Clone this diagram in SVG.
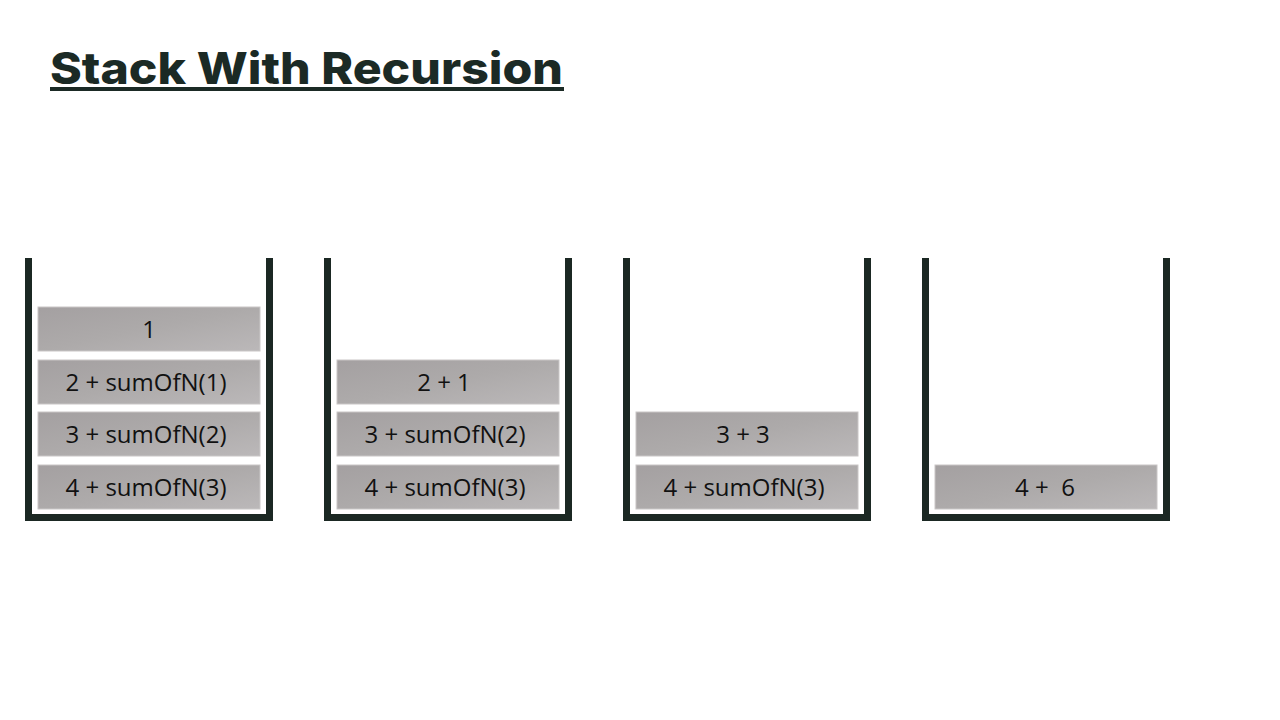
<svg xmlns="http://www.w3.org/2000/svg" width="1280" height="720" viewBox="0 0 1280 720">
<defs>
<linearGradient id="g" x1="0" y1="0" x2="1" y2="1">
<stop offset="0" stop-color="#a4a0a1"/>
<stop offset="0.5" stop-color="#adaaaa"/>
<stop offset="1" stop-color="#bbb8b9"/>
</linearGradient>
<style>
.wall{fill:none;stroke:#1b2823;stroke-width:7;stroke-linecap:butt;stroke-linejoin:miter}
.box{fill:url(#g);stroke:#c9c6c6;stroke-width:1}
.t{font-family:"Open Sans","Noto Sans",sans-serif;font-size:24px;fill:#111;text-anchor:middle}
.title{font-family:Inter,"Open Sans",sans-serif;font-weight:800;font-size:44px;fill:#1b2a25}
</style>
</defs>
<rect width="1280" height="720" fill="#fff"/>
<g id="title">
<text class="title" x="50" y="84" textLength="513" lengthAdjust="spacingAndGlyphs">Stack With Recursion</text>
<rect x="50" y="87" width="514" height="4" fill="#1b2a25"/>
</g>
<g id="stack1">
<path class="wall" d="M28.5,258 V517.5 H269.5 V258"/>
<rect class="box" x="38" y="307" width="222" height="44"/><text class="t" x="149" y="338">1</text>
<rect class="box" x="38" y="360" width="222" height="44"/><text class="t" x="146" y="391">2 + sumOfN(1)</text>
<rect class="box" x="38" y="412" width="222" height="44"/><text class="t" x="146" y="443">3 + sumOfN(2)</text>
<rect class="box" x="38" y="465" width="222" height="44"/><text class="t" x="146" y="496">4 + sumOfN(3)</text>
</g>
<g id="stack2">
<path class="wall" d="M327.5,258 V517.5 H568.5 V258"/>
<rect class="box" x="337" y="360" width="222" height="44"/><text class="t" x="444" y="391">2 + 1</text>
<rect class="box" x="337" y="412" width="222" height="44"/><text class="t" x="445" y="443">3 + sumOfN(2)</text>
<rect class="box" x="337" y="465" width="222" height="44"/><text class="t" x="445" y="496">4 + sumOfN(3)</text>
</g>
<g id="stack3">
<path class="wall" d="M626.5,258 V517.5 H867.5 V258"/>
<rect class="box" x="636" y="412" width="222" height="44"/><text class="t" x="743" y="443">3 + 3</text>
<rect class="box" x="636" y="465" width="222" height="44"/><text class="t" x="744" y="496">4 + sumOfN(3)</text>
</g>
<g id="stack4">
<path class="wall" d="M925.5,258 V517.5 H1166.5 V258"/>
<rect class="box" x="935" y="465" width="222" height="44"/><text class="t" x="1045" y="496" xml:space="preserve">4 +  6</text>
</g>
<g id="connectors"/>
</svg>
